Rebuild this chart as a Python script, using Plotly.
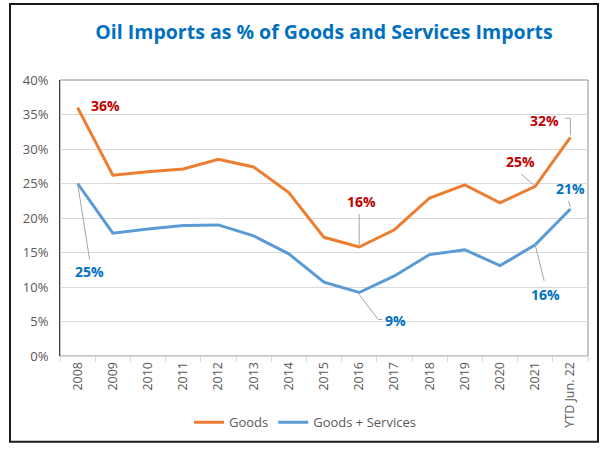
import plotly.graph_objects as go

# Category labels along the x axis
years = ["2008", "2009", "2010", "2011", "2012", "2013", "2014", "2015",
         "2016", "2017", "2018", "2019", "2020", "2021", "YTD Jun. 22"]

# Oil imports as share of goods imports
goods = [0.360, 0.262, 0.267, 0.271, 0.285, 0.274, 0.237, 0.172,
         0.158, 0.183, 0.229, 0.248, 0.222, 0.246, 0.317]

# Oil imports as share of goods + services imports
goods_services = [0.250, 0.178, 0.184, 0.189, 0.190, 0.174, 0.148, 0.107,
                  0.092, 0.116, 0.147, 0.154, 0.131, 0.161, 0.213]

ORANGE = "#ED7D31"
BLUE = "#5B9BD5"
RED_TXT = "#C00000"
BLUE_TXT = "#0070C0"
GREY_TXT = "#595959"
LEADER = "#A6A6A6"
FONT = "Open Sans"

fig = go.Figure()
fig.add_trace(go.Scatter(x=years, y=goods, name="Goods", mode="lines",
                         line=dict(color=ORANGE, width=3)))
fig.add_trace(go.Scatter(x=years, y=goods_services, name="Goods + Services",
                         mode="lines", line=dict(color=BLUE, width=3)))

# Data labels: (series, index, colour, label offset px (dx, dy up), leader path in px)
labels = [
    (goods, 0, RED_TXT, (28, 2), None),
    (goods, 8, RED_TXT, (2, 45), "M0,2 L0,33"),
    (goods, 13, RED_TXT, (-15, 25), "M0,0 L-14,12"),
    (goods, 14, RED_TXT, (-26, 17), "M0,2 L0,19 L-5,19"),
    (goods_services, 0, BLUE_TXT, (12, -88), "M0,0 L12,-76"),
    (goods_services, 8, BLUE_TXT, (36, -28), "M0,-2 L19,-27 L23,-27"),
    (goods_services, 13, BLUE_TXT, (10, -50), "M0,0 L9,-36"),
    (goods_services, 14, BLUE_TXT, (0, 21), "M0,2 L-2,8"),
]

annotations = []
shapes = []
for series, i, col, (dx, dy), path in labels:
    v = series[i]
    annotations.append(dict(
        x=i, y=v, xref="x", yref="y", text=f"<b>{v:.0%}</b>",
        showarrow=False, xshift=dx, yshift=dy,
        font=dict(family=FONT, size=14, color=col)))
    if path:
        shapes.append(dict(
            type="path", xref="x", yref="y", xsizemode="pixel",
            ysizemode="pixel", xanchor=i, yanchor=v, path=path,
            line=dict(color=LEADER, width=1)))

# Plot-area frame
shapes.append(dict(type="rect", xref="paper", yref="paper", x0=0, x1=1,
                   y0=0, y1=1, line=dict(color="#8C8C8C", width=1),
                   layer="below"))
# Outer chart border
shapes.append(dict(type="rect", xref="paper", yref="paper",
                   x0=-0.0947, x1=1.0189, y0=-0.3107, y1=1.275,
                   line=dict(color="#1A1A1A", width=2)))

fig.update_layout(
    width=602, height=449,
    margin=dict(l=60, r=14, t=80, b=89),
    paper_bgcolor="white", plot_bgcolor="white",
    title=dict(text="<b>Oil Imports as % of Goods and Services Imports</b>",
               x=(324 - 60) / 528, xref="paper", xanchor="center",
               y=1 - 32 / 449, yanchor="middle",
               font=dict(family=FONT, size=19.5, color=BLUE_TXT)),
    font=dict(family=FONT, color=GREY_TXT, size=12),
    showlegend=True,
    legend=dict(orientation="h", x=0.464, xanchor="center", y=-0.24,
                yanchor="middle", font=dict(family=FONT, size=13, color=GREY_TXT),
                itemwidth=30, bgcolor="rgba(0,0,0,0)"),
    annotations=annotations,
    shapes=shapes,
)

fig.update_xaxes(type="category", tickangle=-90, tickson="boundaries",
                 ticks="outside", ticklen=5, tickcolor="#D9D9D9",
                 showline=True, linecolor="#D9D9D9", linewidth=1,
                 showgrid=False, tickfont=dict(size=12.5, color=GREY_TXT),
                 range=[-0.5, 14.5])
fig.update_yaxes(range=[0, 0.4], dtick=0.05, tickformat=".0%",
                 showgrid=True, gridcolor="#D9D9D9", gridwidth=1,
                 showline=True, linecolor="#404040", linewidth=1,
                 zeroline=False, ticks="", ticklabelstandoff=8,
                 tickfont=dict(size=13, color=GREY_TXT))

fig.write_html("out.html")
